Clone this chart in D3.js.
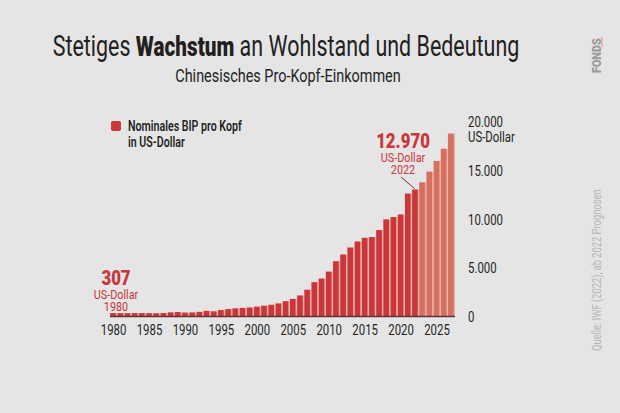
<!DOCTYPE html>
<html>
<head>
<meta charset="utf-8">
<script src="https://cdn.jsdelivr.net/npm/d3@7"></script>
<style>
  body { margin: 0; background: #e5e5e5; }
  svg { display: block; }
  text { font-family: Roboto, sans-serif; }
</style>
</head>
<body>
<svg id="chart" width="620" height="413"></svg>
<script>
// data: China nominal GDP per capita (USD), IMF, from 2023 forecasts
const years = d3.range(1980, 2028)
const gdpPerCapita = [
  307, 291, 281, 297, 302, 293, 280, 300, 368, 406,
  348, 358, 421, 527, 473, 610, 709, 782, 829, 873,
  959, 1053, 1149, 1289, 1509, 1753, 2099, 2694, 3468, 3832,
  4550, 5614, 6301, 7020, 7636, 8016, 8094, 8817, 9905, 10144,
  10409, 12556, 12970, 13700, 14800, 15900, 17150, 18700
]
const forecastFrom = 2023
const yTicks = [0, 5000, 10000, 15000, 20000]
const xTicks = [1980, 1985, 1990, 1995, 2000, 2005, 2010, 2015, 2020, 2025]

const red = '#c8373a'
const redForecast = '#d4705f'
const gapPink = '#f2aaa2'
const ink = '#231f1f'
const squeeze = 0.76 // no condensed face installed, so narrow Roboto

const svg = d3.select('#chart')

// condensed text at (px, py)
function ctext (parent, px, py, sx) {
  return parent.append('text')
    .attr('transform', `translate(${px},${py}) scale(${sx || squeeze},1)`)
}

const x = d3.scaleBand()
  .domain(years)
  .range([110, 455])
  .paddingInner(0)

const y = d3.scaleLinear()
  .domain([0, 20000])
  .range([316, 121])

const data = years.map((yr, i) => ({ year: yr, value: gdpPerCapita[i] }))

// title
const title = ctext(svg, 286, 56, 0.74)
  .attr('text-anchor', 'middle')
  .attr('font-size', 29)
  .attr('fill', ink)
title.append('tspan').text('Stetiges ')
title.append('tspan').attr('font-weight', 900).attr('font-size', 28).text('Wachstum')
title.append('tspan').text(' an Wohlstand und Bedeutung')

ctext(svg, 288, 82, 0.76)
  .attr('text-anchor', 'middle')
  .attr('font-size', 19)
  .attr('fill', ink)
  .text('Chinesisches Pro-Kopf-Einkommen')

// legend
svg.append('rect')
  .attr('x', 111).attr('y', 121)
  .attr('width', 10).attr('height', 10)
  .attr('rx', 2)
  .attr('fill', red)

const legend = ctext(svg, 128, 131).attr('font-size', 14).attr('font-weight', 600).attr('fill', ink)
legend.append('tspan').attr('x', 0).text('Nominales BIP pro Kopf')
legend.append('tspan').attr('x', 0).attr('dy', 16).text('in US-Dollar')

// bars
const bars = svg.append('g').selectAll('g')
  .data(data)
  .enter()
  .append('g')

bars.append('rect')
  .attr('x', d => x(d.year))
  .attr('y', d => y(d.value))
  .attr('width', x.bandwidth())
  .attr('height', d => y(0) - y(d.value))
  .attr('fill', gapPink)

bars.append('rect')
  .attr('x', d => x(d.year) + 0.3)
  .attr('y', d => y(d.value))
  .attr('width', x.bandwidth() - 1.6)
  .attr('height', d => y(0) - y(d.value))
  .attr('fill', d => d.year >= forecastFrom ? redForecast : red)

// baseline
svg.append('line')
  .attr('x1', x(1980)).attr('x2', x(2027) + x.bandwidth())
  .attr('y1', y(0) + 0.5).attr('y2', y(0) + 0.5)
  .attr('stroke', '#5e3434')
  .attr('stroke-width', 1.6)

// x axis labels
const xAxisG = svg.append('g')
xTicks.forEach(d => {
  ctext(xAxisG, x(d) + x.bandwidth() / 2, 335)
    .attr('text-anchor', 'middle')
    .attr('font-size', 15)
    .attr('fill', ink)
    .text(d)
})

// y axis labels
const fmt = d3.formatLocale({ decimal: ',', thousands: '.', grouping: [3], currency: ['', ''] }).format(',')
const yAxisG = svg.append('g')
yTicks.forEach(d => {
  const t = ctext(yAxisG, 468, y(d) + 6)
    .attr('font-size', 15)
    .attr('fill', ink)
  t.append('tspan').attr('x', 0).text(fmt(d))
  if (d === 20000) t.append('tspan').attr('x', 0).attr('dy', 15).text('US-Dollar')
})

// annotations
function annotate (cx, top, big, yearLabel) {
  const t = ctext(svg, cx, top, 0.8)
    .attr('fill', red)
    .attr('text-anchor', 'middle')
  t.append('tspan').attr('x', 0).attr('font-size', 21).attr('font-weight', 900).text(big)
  t.append('tspan').attr('x', 0).attr('dy', 14).attr('font-size', 13.5).attr('dx', 0).text('US-Dollar')
  t.append('tspan').attr('x', 0).attr('dy', 12.5).attr('font-size', 13.5).text(yearLabel)
}

annotate(116, 285, fmt(gdpPerCapita[0]), '1980')
annotate(403, 148, fmt(gdpPerCapita[years.indexOf(2022)]), '2022')

svg.append('line')
  .attr('x1', 401).attr('y1', 177)
  .attr('x2', x(2022) + x.bandwidth() / 2 - 1).attr('y2', y(12970) - 1)
  .attr('stroke', '#8a2a2a')
  .attr('stroke-width', 1)

// logo + source
svg.append('text')
  .attr('transform', 'translate(601,73) rotate(-90) scale(0.9,1)')
  .attr('font-size', 12)
  .attr('font-weight', 900)
  .attr('fill', '#9a9a9a')
  .text('FONDS')

svg.append('rect')
  .attr('x', 601).attr('y', 37)
  .attr('width', 2).attr('height', 10)
  .attr('fill', '#e8b89a')

svg.append('text')
  .attr('transform', 'translate(601,351) rotate(-90) scale(0.78,1)')
  .attr('font-size', 12)
  .attr('fill', '#b5b5b5')
  .text('Quelle: IWF (2022), ab 2022 Prognosen')
</script>
</body>
</html>
